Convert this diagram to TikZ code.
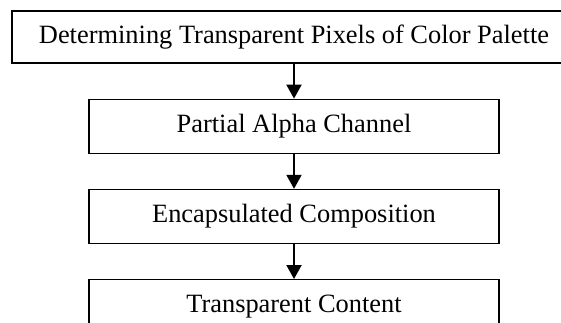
\documentclass[tikz,border=0pt]{standalone}
\usepackage{fontspec}
\setmainfont{Liberation Serif}
\usetikzlibrary{arrows.meta,
                positioning}

\begin{document}
\begin{tikzpicture}[x=1pt, y=-1pt,
stage/.style = {draw, line width=1.2pt, minimum width=410pt,
                minimum height=54pt, inner sep=0pt,
                font=\fontsize{26.4}{30}\selectfont},
every edge/.style = {draw, -{Triangle[width=15pt,length=14pt]},
                     line width=2pt}
                    ]
\clip (0,0) rectangle (561,322);
\useasboundingbox (0,0) rectangle (561,322);
% the four stages, top one wider than the rest
\node[stage, minimum width=564pt, minimum height=52pt]
        (pixels) at (294,37) {Determining Transparent Pixels of Color Palette};
\node[stage, below=35pt of pixels] (alpha) {Partial Alpha Channel};
\node[stage, below=35pt of alpha]  (compo) {Encapsulated Composition};
\node[stage, below=35pt of compo]  (content) {Transparent Content};
%
\draw   (pixels) edge (alpha)
        (alpha)  edge (compo)
        (compo)  edge (content);
\end{tikzpicture}
\end{document}
